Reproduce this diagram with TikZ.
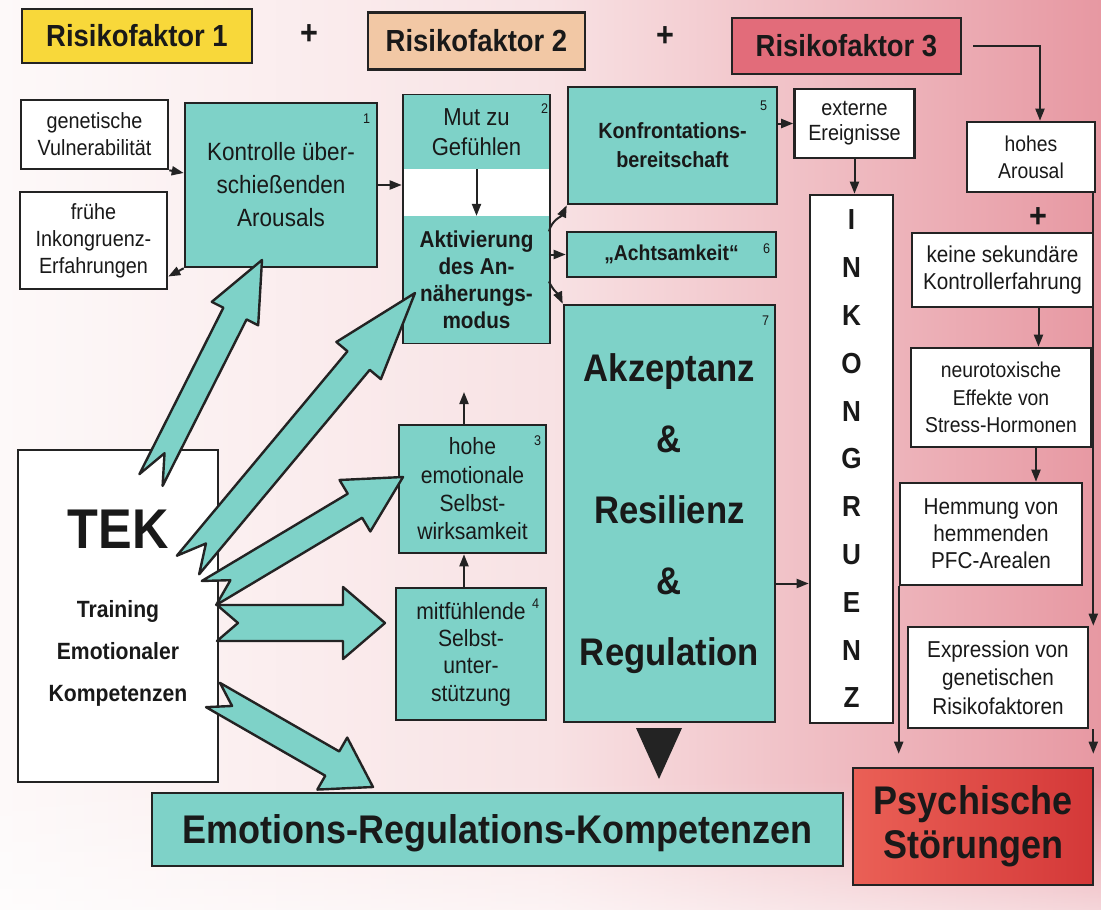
\documentclass[tikz,border=0pt]{standalone}
\usepackage{fontspec}
\setmainfont{Liberation Sans}[FakeStretch=0.9]
\usetikzlibrary{arrows.meta,calc,fadings}

\definecolor{tekteal}{RGB}{126,210,200}
\definecolor{rfyellow}{RGB}{248,216,58}
\definecolor{rfpeach}{RGB}{242,200,165}
\definecolor{rfred}{RGB}{226,108,122}
\definecolor{linegray}{RGB}{35,35,35}
\definecolor{bgleft}{RGB}{253,249,249}
\definecolor{bgmid}{RGB}{248,226,228}
\definecolor{bgright}{RGB}{231,152,162}
\definecolor{psyleft}{RGB}{234,96,86}
\definecolor{psyright}{RGB}{212,56,56}

\newcommand{\fsz}[2]{\fontsize{#1}{#2}\selectfont}
% tail, tip, shaft half width, head half width, head length, notch depth
\newcommand{\notcharrow}[6]{%
  \draw[blockarrow] ($(#1)!#3!90:(#2)$) -- ($(#2)!#5!(#1)!#3!90:(#2)$) -- ($(#2)!#5!(#1)!#4!90:(#2)$) -- (#2)
    -- ($(#2)!#5!(#1)!#4!-90:(#2)$) -- ($(#2)!#5!(#1)!#3!-90:(#2)$) -- ($(#1)!#3!-90:(#2)$) -- ($(#1)!#6!(#2)$) -- cycle;}

\begin{document}
\begin{tikzpicture}[x=1pt, y=-1pt,
    >={Triangle[length=12pt,width=9pt]},
    every node/.style={align=center, inner sep=0pt, text=black!90},
    box/.style={draw=linegray, line width=2.6pt, fill=white},
    tealbox/.style={box, fill=tekteal},
    rfbox/.style={box, font=\bfseries\fsz{30.5}{30.5}},
    numlabel/.style={anchor=north east, font=\fsz{14}{14}},
    conn/.style={draw=linegray, line width=2pt, ->},
    blockarrow/.style={draw=linegray, line width=2.4pt, fill=tekteal, line join=round}]
    \useasboundingbox (0,0) rectangle (1101,910);
    \shade[left color=bgleft, right color=bgright, middle color=bgmid] (0,0) rectangle (1101,910);
    \fill[white, opacity=0.6, path fading=north] (0,780) rectangle (1101,910);

    \node[rfbox, fill=rfyellow, minimum width=230pt, minimum height=54pt] (rf1) at (137,36) {Risikofaktor 1};
    \node[rfbox, fill=rfpeach, minimum width=217pt, minimum height=57pt] (rf2) at (476.5,41) {Risikofaktor 2};
    \node[rfbox, fill=rfred, minimum width=229pt, minimum height=56pt] (rf3) at (846.5,46) {Risikofaktor 3};
    \node[font=\bfseries\fsz{34}{34}] (plus1) at (309,35) {+};
    \node[font=\bfseries\fsz{34}{34}] (plus2) at (665,37) {+};

    \node[box, minimum width=147pt, minimum height=69pt, font=\fsz{22}{27}] (gen) at (94.5,134.5) {genetische\\Vulnerabilität};
    \node[box, minimum width=147pt, minimum height=97pt, font=\fsz{22}{27}] (fru) at (93.5,240.5) {frühe\\Inkongruenz-\\Erfahrungen};
    \node[tealbox, minimum width=192pt, minimum height=164pt, font=\fsz{25}{33}] (kon) at (281,185) {Kontrolle über-\\schießenden\\Arousals};

    \node[box, minimum width=147pt, minimum height=248pt] (mutbox) at (476.5,219) {};
    \node[fill=tekteal, minimum width=144.4pt, minimum height=73.7pt, anchor=north, font=\fsz{24.5}{30}] (mut) at ([yshift=-1.3pt]mutbox.north) {Mut zu\\Gefühlen};
    \node[fill=tekteal, minimum width=144.4pt, minimum height=126.7pt, anchor=south, font=\bfseries\fsz{23}{27}] (aktiv) at ([yshift=1.3pt]mutbox.south) {Aktivierung\\des An-\\näherungs-\\modus};

    \node[tealbox, minimum width=209pt, minimum height=117pt, font=\bfseries\fsz{22}{29}] (konf) at (672.5,145.5) {Konfrontations-\\bereitschaft};
    \node[tealbox, minimum width=209pt, minimum height=45pt, font=\bfseries\fsz{21.5}{21.5}] (acht) at (671.5,254.5) {„Achtsamkeit“};
    \node[tealbox, minimum width=211pt, minimum height=417pt, font=\bfseries\fsz{38.5}{71}] (akz) at (669.5,513.5) {Akzeptanz\\\&\\Resilienz\\\&\\Regulation};

    \node[box, minimum width=120pt, minimum height=69pt, font=\fsz{22}{25}] (ext) at (854.5,123.5) {externe\\Ereignisse};
    \node[box, minimum width=83pt, minimum height=528pt, font=\bfseries\fsz{29}{47.8}] (ink) at (851.5,459) {I\\N\\K\\O\\N\\G\\R\\U\\E\\N\\Z};

    \node[box, minimum width=128pt, minimum height=70pt, font=\fsz{21.5}{27}] (hoch) at (1031,157) {hohes\\Arousal};
    \node[font=\bfseries\fsz{34}{34}] (plus3) at (1038,218) {+};
    \node[box, minimum width=181pt, minimum height=74pt, font=\fsz{23}{27}] (keine) at (1002.5,270) {keine sekundäre\\Kontrollerfahrung};
    \node[box, minimum width=180pt, minimum height=99pt, font=\fsz{21.5}{27.5}] (neuro) at (1001,397.5) {neurotoxische\\Effekte von\\Stress-Hormonen};
    \node[box, minimum width=182pt, minimum height=102pt, font=\fsz{23}{27}] (hemm) at (991,534) {Hemmung von\\hemmenden\\PFC-Arealen};
    \node[box, minimum width=180pt, minimum height=101pt, font=\fsz{23}{28.5}] (expr) at (998,677.5) {Expression von\\genetischen\\Risikofaktoren};
    \node[draw=linegray, line width=2.6pt, left color=psyleft, right color=psyright, minimum width=240pt, minimum height=117pt, font=\bfseries\fsz{40}{44}] (psych) at (973,826.5) {Psychische\\Störungen};

    \node[tealbox, minimum width=691pt, minimum height=73pt, text height=28.6pt, text depth=0pt, font=\bfseries\fsz{40}{40}] (erk) at (497.5,829.5) {Emotions-Regulations-Kompetenzen};

    \node[box, minimum width=200pt, minimum height=332pt] (tek) at (118,616) {};
    \node[font=\bfseries\fsz{23.5}{42}] (teklabel) at (118,608) {{\fsz{56}{56}TEK}\\[27pt]Training\\Emotionaler\\Kompetenzen};

    \node[tealbox, minimum width=147pt, minimum height=128pt, font=\fsz{23.5}{28.3}] (hohe) at (472.5,489) {hohe\\emotionale\\Selbst-\\wirksamkeit};
    \node[tealbox, minimum width=150pt, minimum height=132pt, font=\fsz{23.5}{27.3}] (mitf) at (471,654) {mitfühlende\\Selbst-\\unter-\\stützung};

    \node[numlabel] (n1) at ([xshift=-8pt,yshift=-12pt]kon.north east) {1};
    \node[numlabel] (n2) at ([xshift=-3pt,yshift=-10pt]mutbox.north east) {2};
    \node[numlabel] (n3) at ([xshift=-6pt,yshift=-12pt]hohe.north east) {3};
    \node[numlabel] (n4) at ([xshift=-8pt,yshift=-12pt]mitf.north east) {4};
    \node[numlabel] (n5) at ([xshift=-11pt,yshift=-15pt]konf.north east) {5};
    \node[numlabel, anchor=east] (n6) at ([xshift=-7pt,yshift=6pt]acht.east) {6};
    \node[numlabel] (n7) at ([xshift=-7pt,yshift=-12pt]akz.north east) {7};

    \draw[conn] (gen.south east) -- ([yshift=12pt]kon.west);
    \draw[conn] (kon.south west) -- ([yshift=-36pt]fru.east);
    \draw[conn] (kon.east) -- (kon.east -| mutbox.west);
    \draw[conn] (mut.south) -- (aktiv.north);
    \draw[conn] ([yshift=48pt]aktiv.east) to[out=75,in=-115] (konf.south west);
    \draw[conn] (acht.west -| aktiv.east) -- (acht.west);
    \draw[conn] ([yshift=-2pt]aktiv.east) to[out=-65,in=115] (akz.north west);
    \draw[conn] (konf.east |- ext.west) -- (ext.west);
    \draw[conn] (ext.south) -- (ext.south |- ink.north);
    \draw[conn] ([yshift=-70pt]akz.east) -- ([yshift=-70pt]akz.east -| ink.west);
    \draw[conn, shorten <=11pt] (rf3.east) -| ([xshift=9pt]hoch.north);
    \draw[conn] ([xshift=-3pt]hoch.south east) -- ([xshift=-3pt]hoch.south east |- expr.north);
    \draw[conn, shorten >=13pt] ([xshift=-3pt]hoch.south east |- expr.south) -- ([xshift=-3pt]hoch.south east |- psych.north);
    \draw[conn] ([xshift=36pt]keine.south) -- ([xshift=36pt]keine.south |- neuro.north);
    \draw[conn] ([xshift=35pt]neuro.south) -- ([xshift=35pt]neuro.south |- hemm.north);
    \draw[conn, shorten >=13pt] (hemm.south west) -- (hemm.south west |- psych.north);
    \coordinate (up) at (464,392);
    \draw[conn] (hohe.north -| up) -- (up);
    \draw[conn] (mitf.north -| up) -- (hohe.south -| up);
    \fill[linegray] (636,728) -- (682,728) -- (659,779) -- cycle;

    \coordinate (tek1) at (151,480);
    \coordinate (kon1) at (262,260);
    \coordinate (tek2) at (188,565);
    \coordinate (akt1) at (415,293);
    \coordinate (tek3) at (209,593);
    \coordinate (hoh1) at (403,477);
    \coordinate (tek4) at (217,623);
    \coordinate (mit1) at (385,623);
    \coordinate (tek5) at (213,695);
    \coordinate (erk1) at (373,787);
    \notcharrow{tek1}{kon1}{13pt}{26pt}{60pt}{30pt}
    \notcharrow{tek2}{akt1}{14.5pt}{29pt}{88pt}{28pt}
    \notcharrow{tek3}{hoh1}{14pt}{30pt}{56pt}{25pt}
    \notcharrow{tek4}{mit1}{18pt}{36pt}{42pt}{21pt}
    \notcharrow{tek5}{erk1}{14pt}{30pt}{47pt}{22pt}
\end{tikzpicture}
\end{document}
